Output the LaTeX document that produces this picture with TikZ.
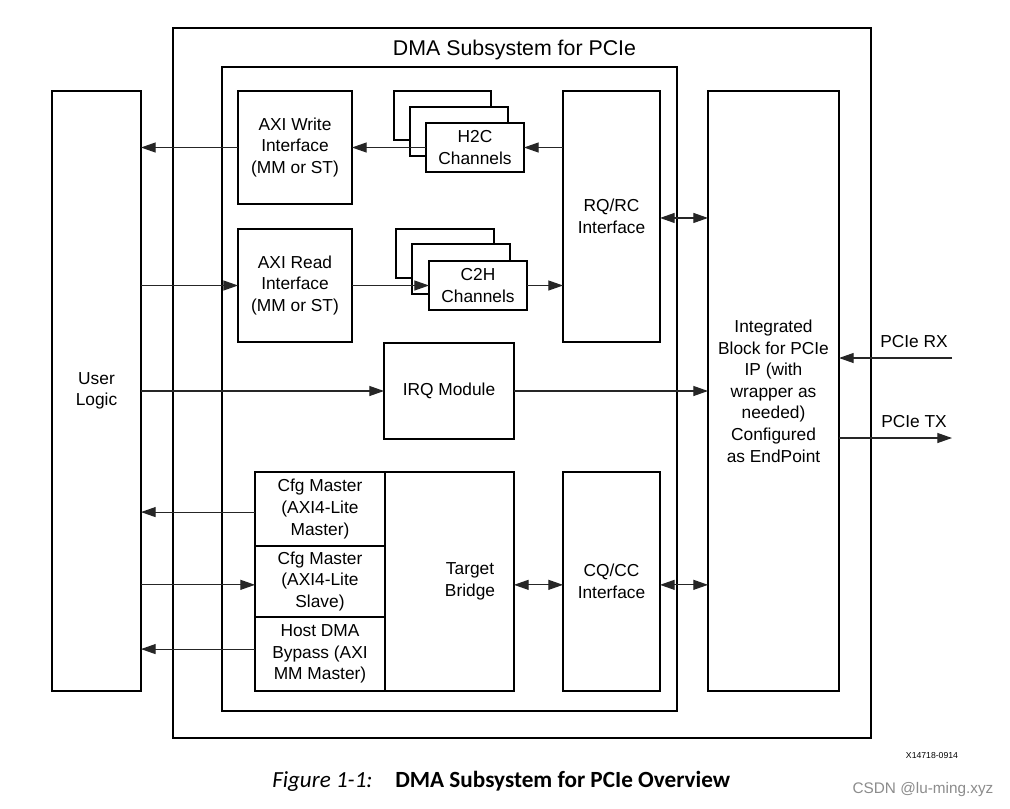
\documentclass[tikz,border=0pt]{standalone}
\usepackage{fontspec}
\setmainfont{Liberation Sans}
\newfontfamily\capfont{Carlito}
\usetikzlibrary{arrows.meta}
\begin{document}
\begin{tikzpicture}[x=0.75pt,y=-0.75pt,
  box/.style={draw=black,line width=1.4pt,inner sep=0pt,outer sep=0pt,align=center,fill=white,
    font=\fontsize{13}{16.2}\selectfont},
  plain/.style={box,fill=none},
  sz/.style 2 args={minimum width=#1*0.75pt,minimum height=#2*0.75pt},
  txt/.style={inner sep=0pt,align=center,font=\fontsize{13}{16.2}\selectfont},
  conn/.style={line width=0.85pt,draw=black!85},
  tip/.tip={Triangle[length=11pt,width=7.5pt]},
  arr/.style={conn,-tip},
  darr/.style={conn,tip-tip}]
\useasboundingbox (0,0) rectangle (1010,808);
\fill[white] (0,0) rectangle (1010,808);

% containers
\node[plain,sz={698}{710}] (dma) at (522,383) {};
\node[txt,anchor=base,font=\fontsize{16}{19}\selectfont] (dmat) at (514.5,55) {DMA Subsystem for PCIe};
\node[plain,sz={455}{644}] (inner) at (449.5,389) {};

% left / right big blocks
\node[box,sz={89}{600}] (user) at (96.5,391) {User\\Logic};
\node[box,sz={131}{600}] (ib) at (773.5,391) {Integrated\\Block for PCIe\\IP (with\\wrapper as\\needed)\\Configured\\as EndPoint};

% AXI interfaces
\node[box,sz={114}{113}] (axiw) at (295,147.5) {AXI Write\\Interface\\(MM or ST)};
\node[box,sz={114}{113}] (axir) at (295,285.5) {AXI Read\\Interface\\(MM or ST)};

% H2C stack
\node[box,sz={97}{49}] (h2cb) at (442.5,115.5) {};
\node[box,sz={98}{49}] (h2cm) at (459,131.5) {};
\node[box,sz={98}{49}] (h2c) at (475,147.5) {H2C\\Channels};

% C2H stack
\node[box,sz={98}{49}] (c2hb) at (445,253.5) {};
\node[box,sz={98}{50}] (c2hm) at (461,269) {};
\node[box,sz={98}{49}] (c2h) at (478,285.5) {C2H\\Channels};

% interfaces
\node[box,sz={97}{251}] (rqrc) at (611.5,216.5) {RQ/RC\\Interface};
\node[box,sz={130}{96}] (irq) at (449,391) {IRQ Module};
\node[box,sz={97}{219}] (cqcc) at (611.5,581.5) {CQ/CC\\Interface};

% target bridge group
\node[box,sz={129}{219}] (tb) at (449.5,581.5) {};
\node[txt] (tbt) at ([xshift=15.4pt]tb.center) {Target\\Bridge};
\node[box,sz={130}{74}] (cfgm) at (320,509) {Cfg Master\\(AXI4-Lite\\Master)};
\node[box,sz={130}{71}] (cfgs) at (320,581.5) {Cfg Master\\(AXI4-Lite\\Slave)};
\node[box,sz={130}{74}] (host) at (320,654) {Host DMA\\Bypass (AXI\\MM Master)};

% connectors
\draw[arr] (h2c.east -| rqrc.west) -- (h2c.east);
\draw[arr] (h2c.west) -- (axiw.east);
\draw[arr] (axiw.west) -- (axiw.west -| user.east);
\draw[arr] (axir.west -| user.east) -- (axir.west);
\draw[arr] (axir.east) -- (c2h.west);
\draw[arr] (c2h.east) -- (c2h.east -| rqrc.west);
\draw[darr] ([yshift=-1.1pt]rqrc.east) -- ([yshift=-1.1pt]rqrc.east -| ib.west);
\draw[arr] (user.east |- irq.west) -- (irq.west);
\draw[arr] (irq.east) -- (irq.east -| ib.west);
\draw[arr] ([yshift=-2.3pt]cfgm.west) -- ([yshift=-2.3pt]cfgm.west -| user.east);
\draw[arr] ([yshift=-2.5pt]cfgs.west -| user.east) -- ([yshift=-2.5pt]cfgs.west);
\draw[arr] ([yshift=3.7pt]host.west) -- ([yshift=3.7pt]host.west -| user.east);
\draw[darr] ([yshift=-2.5pt]tb.east) -- ([yshift=-2.5pt]tb.east -| cqcc.west);
\draw[darr] ([yshift=-2.5pt]cqcc.east) -- ([yshift=-2.5pt]cqcc.east -| ib.west);

% PCIe RX / TX
\coordinate (rxin) at (952,358);
\coordinate (txout) at (952,438);
\draw[arr] (rxin) -- (rxin -| ib.east);
\draw[arr] (txout -| ib.east) -- (txout);
\node[txt] (rxl) at (914,342) {PCIe RX};
\node[txt] (txl) at (914,422) {PCIe TX};

% captions
\node[inner sep=0pt,font=\fontsize{6.5}{7}\selectfont] (xid) at (932,756) {X14718-0914};
\node[inner sep=0pt,anchor=base west,font=\capfont\itshape\fontsize{17.3}{20}\selectfont] (figl) at (272,787) {Figure 1-1:};
\node[inner sep=0pt,anchor=base west,font=\capfont\bfseries\fontsize{17.4}{20}\selectfont] (figt) at (395,787) {DMA Subsystem for PCIe Overview};
\node[inner sep=0pt,text=black!45,font=\fontsize{11.5}{13}\selectfont] (wm) at (923,790) {CSDN @lu-ming.xyz};
\end{tikzpicture}
\end{document}
